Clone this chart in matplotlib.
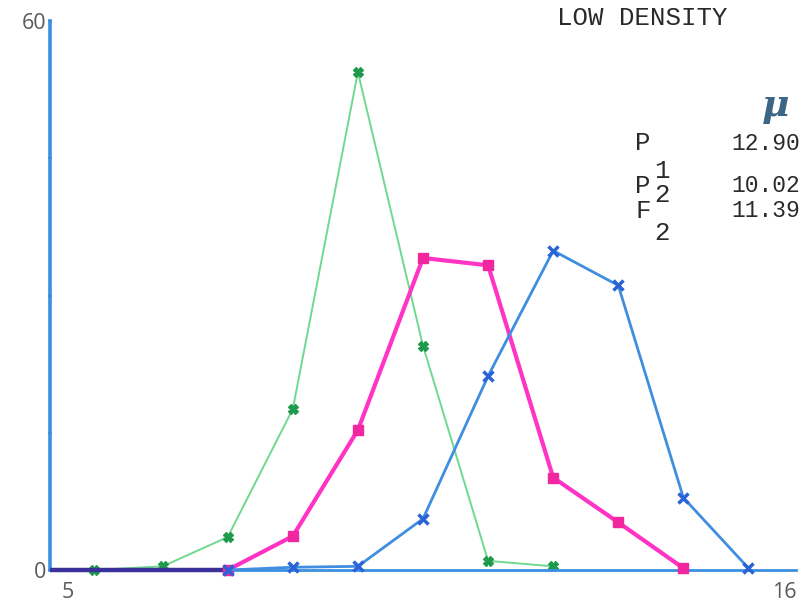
import numpy as np
import matplotlib
matplotlib.use("Agg")
import matplotlib.pyplot as plt

# ---- data ----
x_bins = [5.4, 6.45, 7.45, 8.45, 9.45, 10.45, 11.45, 12.45, 13.45, 14.45, 15.45]
p2_green = [0, 0.4, 3.6, 17.6, 54.4, 24.5, 1.0, 0.4, np.nan, np.nan, np.nan]
f2_magenta = [np.nan, np.nan, 0, 3.7, 15.3, 34.1, 33.3, 10.1, 5.2, 0.2, np.nan]
p1_blue = [np.nan, np.nan, 0, 0.3, 0.4, 5.6, 21.2, 34.9, 31.1, 7.9, 0.2]
y_ticks = [0, 15, 30, 45, 60]
y_ticklabels = ["0", "", "", "", "60"]
x_ticks = [5, 16]
x_ticklabels = ["5", "16"]
title_text = "LOW DENSITY"
table_names = ["P", "P", "F"]
table_subs = ["1", "2", "2"]
table_means = ["12.90", "10.02", "11.39"]

W, H = 802, 610
fig = plt.figure(figsize=(W / 100, H / 100), dpi=100)
fig.patch.set_facecolor("white")

def fx(px):
    return px / W

def fy(py):
    return 1 - py / H

ax = fig.add_axes([fx(50), fy(570), fx(796) - fx(50), (570 - 21) / H])
ax.set_xlim(4.72, 16.18)
ax.set_ylim(0, 60)

axis_blue = "#3a8fe0"
for s in ["top", "right"]:
    ax.spines[s].set_visible(False)
ax.spines["left"].set_color(axis_blue)
ax.spines["left"].set_linewidth(2.6)
ax.spines["bottom"].set_color(axis_blue)
ax.spines["bottom"].set_linewidth(2.0)

# dark baseline where the blue and magenta zero runs overlap
ax.plot([ax.get_xlim()[0], x_bins[2]], [0, 0], color="#3b2f9a", lw=3.2,
        solid_capstyle="butt", zorder=3, clip_on=False)

ax.plot(x_bins, p2_green, color="#6fd98f", lw=1.4, zorder=2, clip_on=False,
        marker="X", ms=6.5, mfc="#1f9a4c", mec="#1f9a4c")
ax.plot(x_bins, f2_magenta, color="#ff33c4", lw=3.0, zorder=3, clip_on=False,
        marker="s", ms=6.5, mfc="#f0279f", mec="#f0279f")
ax.plot(x_bins, p1_blue, color="#3f8ee0", lw=2.0, zorder=4, clip_on=False,
        marker="x", ms=6.5, mew=2.5, mec="#2a63d6")

ax.set_yticks(y_ticks)
ax.set_yticklabels(y_ticklabels, fontsize=15.5, fontfamily="Open Sans", color="#5a5a5a")
ax.set_xticks(x_ticks)
ax.set_xticklabels(x_ticklabels, fontsize=15.5, fontfamily="Open Sans", color="#5a5a5a")
ax.tick_params(axis="y", length=3, width=1.5, color=axis_blue, direction="inout", pad=1)
ax.tick_params(axis="x", length=0, pad=9)

mono = "Liberation Mono"
fig.text(fx(557), fy(18), title_text, fontfamily=mono, fontsize=18.5,
         color="#2a2a2a", va="center", ha="left")
fig.text(fx(776), fy(105), "μ", fontfamily="DejaVu Serif", fontweight="bold",
         fontstyle="italic", fontsize=27, color="#3d6585", va="center", ha="center")

name_y = [143, 186, 211]
sub_y = [171, 195, 233]
for n, s, m, ny, sy in zip(table_names, table_subs, table_means, name_y, sub_y):
    fig.text(fx(635), fy(ny), n, fontfamily=mono, fontsize=18.5, color="#2a2a2a",
             va="center", ha="left")
    fig.text(fx(654), fy(sy), s, fontfamily=mono, fontsize=18.5, color="#2a2a2a",
             va="center", ha="left")
    fig.text(fx(731), fy(ny), m, fontfamily=mono, fontsize=16.5, color="#2a2a2a",
             va="center", ha="left")

fig.savefig("out.png", dpi=100, facecolor="white")
